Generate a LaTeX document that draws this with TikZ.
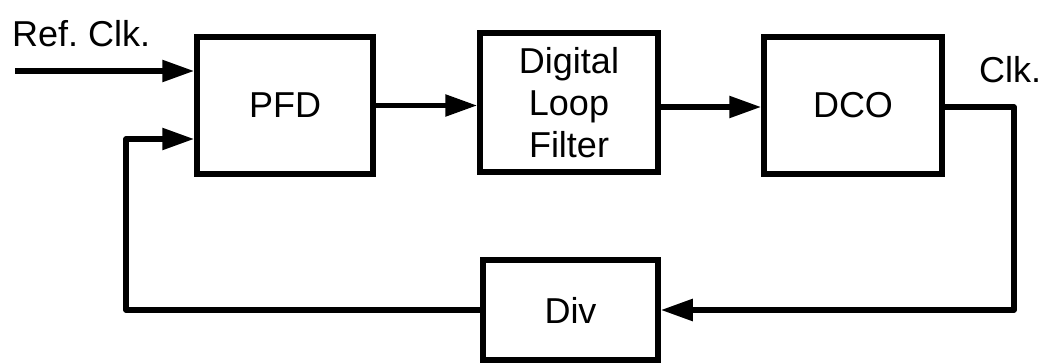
\documentclass[tikz,border=0pt]{standalone}
\usepackage{fontspec}
\setmainfont{Liberation Sans}
\usetikzlibrary{arrows.meta}
\begin{document}
\begin{tikzpicture}[x=1pt,y=-1pt,
  blk/.style={draw, line width=5.5pt, inner sep=0pt, font=\fontsize{36}{42}\selectfont, align=center},
  wire/.style={line width=5.5pt, line join=round},
  arr/.style={wire, -{Triangle[length=32pt,width=21pt]}},
  lbl/.style={font=\fontsize{36}{42}\selectfont, inner sep=0pt}]
\useasboundingbox (0,0) rectangle (1044,364);
\node[blk, minimum width=176pt, minimum height=137pt] (pfd) at (285,105.5) {PFD};
\node[blk, minimum width=178pt, minimum height=139pt] (dlf) at (569,102.5) {Digital\\Loop\\Filter};
\node[blk, minimum width=178pt, minimum height=137pt] (dco) at (853,105.5) {DCO};
\node[blk, minimum width=175pt, minimum height=100pt] (div) at (570.5,310) {Div};
\node[lbl, anchor=base west] (reflbl) at (12,46) {Ref.\ Clk.};
\node[lbl, anchor=base west] (clklbl) at (979,82) {Clk.};
\coordinate (refin) at (15,71);
\coordinate (fbin) at (126,139);
\coordinate (outc) at (1014,107);
\draw[arr] (refin) -- (refin -| pfd.west);
\draw[arr] (pfd.east) -- (dlf.west |- pfd.east);
\draw[arr] (dlf.east |- outc) -- (dco.west |- outc);
\draw[arr] (dco.east |- outc) -- (outc) |- (div.east);
\draw[arr] (div.west) -| (fbin) -- (fbin -| pfd.west);
\end{tikzpicture}
\end{document}
